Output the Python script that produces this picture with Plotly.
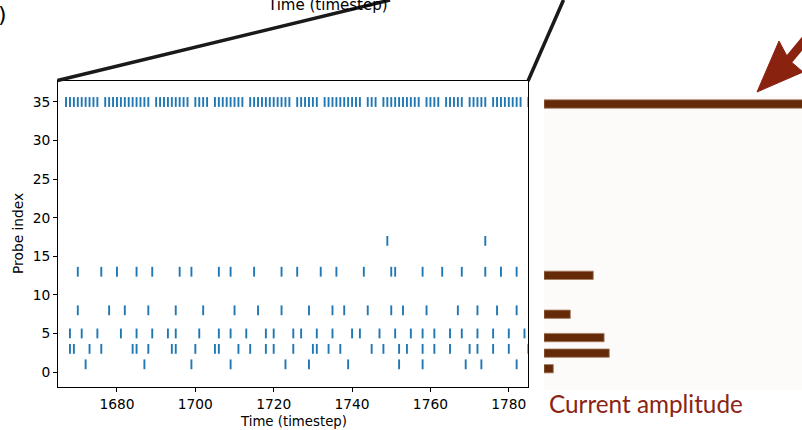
import plotly.graph_objects as go

# ---------------- data ----------------
spikes_35 = [1667, 1668, 1669, 1670, 1671, 1672, 1673, 1674, 1675,
             1677, 1678, 1679, 1680, 1681, 1682, 1683, 1684, 1685, 1686, 1687, 1688,
             1690, 1691, 1692, 1693, 1694, 1695, 1696, 1697, 1698,
             1700, 1701, 1702, 1703,
             1705, 1706, 1707, 1708, 1709, 1710, 1711, 1712,
             1714, 1715, 1716, 1717, 1718, 1719, 1720, 1721, 1722, 1723, 1724,
             1726, 1727, 1728, 1729, 1730, 1731,
             1733, 1734, 1735, 1736, 1737, 1738, 1739, 1740, 1741, 1742,
             1744, 1745, 1746,
             1748, 1749, 1750, 1751, 1752, 1753, 1754, 1755, 1756, 1757,
             1759, 1760, 1761, 1762,
             1764, 1765, 1766, 1767, 1768,
             1770, 1771, 1772, 1773, 1774,
             1776, 1777, 1778, 1779, 1780, 1781, 1782, 1783,
             1785]
spikes_17 = [1749, 1774]
spikes_13 = [1670, 1676, 1680, 1685, 1689, 1696, 1699, 1706, 1709, 1715, 1722,
             1726, 1732, 1736, 1743, 1750, 1751, 1758, 1763, 1768, 1774, 1778, 1782]
spikes_8 = [1670, 1678, 1682, 1688, 1695, 1702, 1710, 1716, 1722,
            1729, 1735, 1738, 1744, 1750, 1753, 1759, 1767, 1772, 1777, 1782]
spikes_5 = [1668, 1671, 1675, 1681, 1685, 1689, 1693, 1695, 1701, 1706, 1709, 1713,
            1718, 1720, 1725, 1727, 1731, 1735, 1740, 1742, 1747, 1751, 1755, 1758,
            1761, 1765, 1768, 1772, 1776, 1780, 1784]
spikes_3 = [1668, 1669, 1673, 1676, 1684, 1685, 1688, 1694, 1695, 1700, 1705, 1706,
            1711, 1714, 1718, 1720, 1725, 1730, 1731, 1734, 1737, 1745, 1748, 1752,
            1754, 1758, 1761, 1765, 1770, 1772, 1776, 1780, 1785]
spikes_1 = [1672, 1687, 1699, 1709, 1723, 1729, 1739, 1752, 1758, 1769, 1773, 1782]

probe_rows = [35, 17, 13, 8, 5, 3, 1]
probe_spikes = [spikes_35, spikes_17, spikes_13, spikes_8, spikes_5, spikes_3, spikes_1]

x_ticks = [1680, 1700, 1720, 1740, 1760, 1780]
y_ticks = [0, 5, 10, 15, 20, 25, 30, 35]

amp_probes = [35, 13, 8, 5, 3, 1]
amp_values = [1.05, 0.191, 0.102, 0.233, 0.253, 0.036]

# ---------------- figure ----------------
W, H = 802, 430
def px(x):
    return x / W
def py(y):
    return 1 - y / H

fig = go.Figure()

for row, times in zip(probe_rows, probe_spikes):
    fig.add_trace(go.Scatter(
        x=times, y=[row] * len(times), mode="markers",
        marker=dict(symbol="line-ns", size=7, color="#1f77b4",
                    line=dict(color="#1f77b4", width=1.9)),
        showlegend=False, hoverinfo="x+y",
        xaxis="x", yaxis="y"))

fig.add_trace(go.Bar(
    x=amp_values, y=amp_probes, orientation="h", width=1.07,
    marker=dict(color="#652a08", line=dict(color="#a27d62", width=0.8)),
    showlegend=False, xaxis="x2", yaxis="y2"))

font = "DejaVu Sans, Arial, sans-serif"

fig.update_layout(
    width=W, height=H,
    margin=dict(l=0, r=0, t=0, b=0),
    paper_bgcolor="white", plot_bgcolor="rgba(0,0,0,0)",
    font=dict(family=font, size=13.8, color="black"),
    xaxis=dict(domain=[px(58), px(528)], range=[1664.95, 1784.9],
               tickvals=x_ticks, ticks="outside", ticklen=4, tickcolor="black",
               showline=True, linecolor="black", linewidth=1, mirror=True,
               showgrid=False, zeroline=False, anchor="y"),
    yaxis=dict(domain=[py(387), py(81)], range=[-1.94, 37.72],
               tickvals=y_ticks, ticks="outside", ticklen=4, tickcolor="black",
               showline=True, linecolor="black", linewidth=1, mirror=True,
               showgrid=False, zeroline=False, anchor="x"),
    xaxis2=dict(domain=[px(544), 1.0], range=[0, 1], visible=False,
                anchor="y2", fixedrange=True),
    yaxis2=dict(domain=[py(390), py(96)], range=[-1.734, 36.03], visible=False,
                anchor="x2", fixedrange=True),
    shapes=[
        dict(type="rect", xref="paper", yref="paper", x0=px(544), x1=1.0,
             y0=py(390), y1=py(96), fillcolor="#fdfbfa", line=dict(width=0),
             layer="below"),
        dict(type="line", xref="paper", yref="paper", x0=px(57.5), y0=py(80.5),
             x1=px(390), y1=py(0), line=dict(color="#1a1a1a", width=3.5)),
        dict(type="line", xref="paper", yref="paper", x0=px(528), y0=py(81),
             x1=px(563.5), y1=py(0), line=dict(color="#1a1a1a", width=3.5)),
        # arrow shaft and head (decoration)
        dict(type="line", xref="paper", yref="paper", x0=px(786), y0=py(63),
             x1=px(830), y1=py(10), line=dict(color="#8a2210", width=9)),
        dict(type="path", xref="paper", yref="paper",
             path=f"M {px(757)} {py(92)} L {px(779)} {py(41)} L {px(789)} {py(60)} "
                  f"L {px(803)} {py(72)} Z",
             fillcolor="#8a2210", line=dict(color="#8a2210", width=1)),
    ],
    annotations=[
        dict(text="Time (timestep)", xref="paper", yref="paper", x=px(293),
             y=py(421.5), xanchor="center", yanchor="middle", showarrow=False,
             font=dict(size=13.3)),
        dict(text="Probe index", xref="paper", yref="paper", x=px(18),
             y=py(234), xanchor="center", yanchor="middle", textangle=-90,
             showarrow=False, font=dict(size=13.8)),
        dict(text="Time (timestep)", xref="paper", yref="paper", x=px(327.5),
             y=py(5), xanchor="center", yanchor="middle", showarrow=False,
             font=dict(size=15)),
        dict(text=")", xref="paper", yref="paper", x=px(-4), y=py(14),
             xanchor="left", yanchor="middle", showarrow=False,
             font=dict(size=22)),
        dict(text="Current amplitude", xref="paper", yref="paper", x=px(547),
             y=py(403), xanchor="left", yanchor="middle", showarrow=False,
             font=dict(family="Lato, sans-serif", size=24.3, color="#8b2414")),
    ],
)

fig.write_html("out.html")
